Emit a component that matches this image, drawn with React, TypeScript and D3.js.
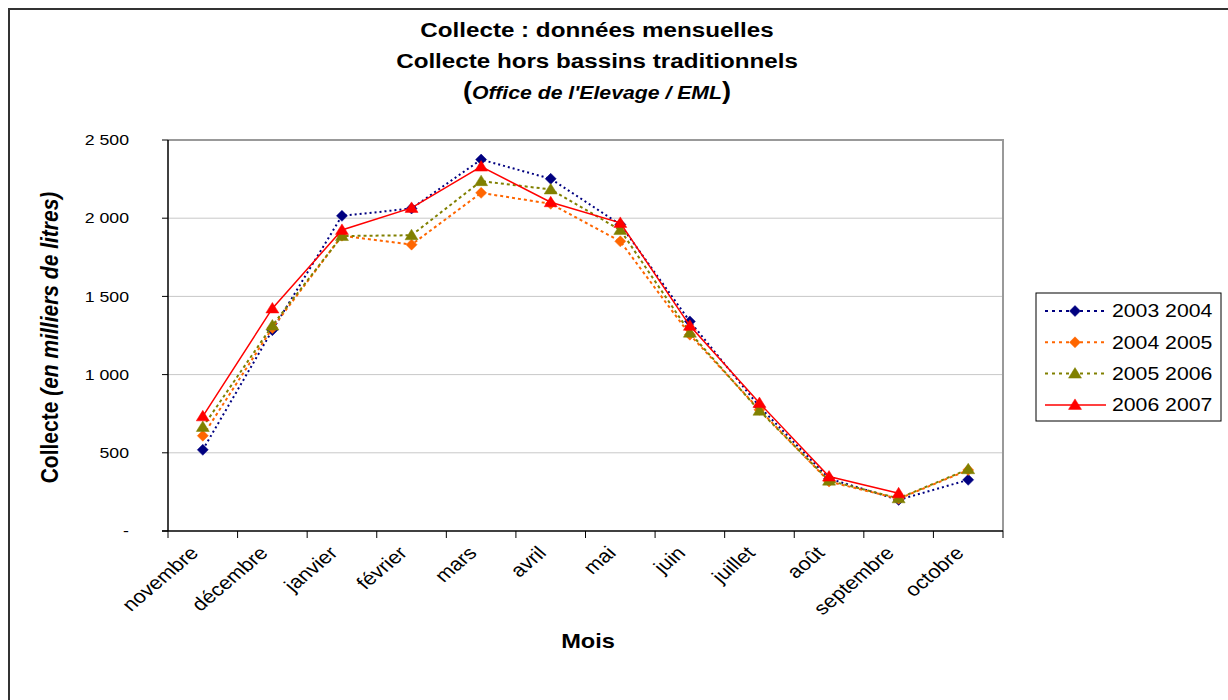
import React, { useRef, useEffect } from 'react';
import * as d3 from 'd3';

const months = ['novembre', 'décembre', 'janvier', 'février', 'mars', 'avril', 'mai', 'juin', 'juillet', 'août', 'septembre', 'octobre'];
const yTicks = [0, 500, 1000, 1500, 2000, 2500];
const yTickLabels = ['-', '500', '1 000', '1 500', '2 000', '2 500'];

const s0304 = [519, 1284, 2015, 2062, 2375, 2252, 1960, 1340, 795, 335, 199, 327];
const s0405 = [609, 1298, 1888, 1831, 2162, 2092, 1852, 1255, 775, 316, 206, 390];
const s0506 = [665, 1314, 1886, 1891, 2237, 2184, 1925, 1268, 769, 322, 209, 395];
const s0607 = [733, 1423, 1925, 2066, 2330, 2102, 1970, 1312, 818, 348, 241];

const seriesNames = ['2003 2004', '2004 2005', '2005 2006', '2006 2007'];
const seriesValues = [s0304, s0405, s0506, s0607];
const seriesColors = ['#000080', '#ff6600', '#808000', '#ff0000'];
const seriesDash = ['2,3', '3,3', '3,3', null];
const seriesMarker = ['diamond', 'diamond', 'triangle', 'triangle'];

const FONT = '"Liberation Sans", Arial, sans-serif';
// the original picture is a bit wider than tall, so text is stretched sideways
const SX = 1.18;

const App: React.FC = () => {
  const ref = useRef<SVGSVGElement | null>(null);

  useEffect(() => {
    const svg = d3.select(ref.current);
    svg.selectAll('*').remove();
    const width = 1228;
    const height = 700;
    svg.attr('width', width).attr('height', height).style('font-family', FONT);

    const left = 168, right = 1003, top = 140, bottom = 531;

    // stretched text holder
    const label = (parent: any, px: number, py: number, extra = '') =>
      parent.append('g').attr('transform', `translate(${px},${py}) scale(${SX},1) ${extra}`).append('text');

    // outer frame (extends past right/bottom edges)
    svg.append('rect')
      .attr('x', 9).attr('y', 9).attr('width', width + 20).attr('height', height + 20)
      .attr('fill', 'white').attr('stroke', '#333').attr('stroke-width', 2);

    const x = d3.scaleBand<string>().domain(months).range([left, right]).paddingInner(0).paddingOuter(0);
    const y = d3.scaleLinear().domain([0, 2500]).range([bottom, top]);

    // gridlines
    svg.append('g').selectAll('line').data(yTicks.filter((t) => t > 0)).join('line')
      .attr('x1', left).attr('x2', right)
      .attr('y1', (d) => y(d)).attr('y2', (d) => y(d))
      .attr('stroke', '#c8c8c8').attr('stroke-width', 1);

    // plot area border top/right
    svg.append('path')
      .attr('d', `M${left},${top}H${right}V${bottom}`)
      .attr('fill', 'none').attr('stroke', '#999').attr('stroke-width', 2);

    // y axis
    const yAxis = svg.append('g');
    yAxis.append('line').attr('x1', left).attr('x2', left).attr('y1', top).attr('y2', bottom)
      .attr('stroke', '#000').attr('stroke-width', 1.5);
    yAxis.selectAll('line.tick').data(yTicks).join('line').attr('class', 'tick')
      .attr('x1', left - 6).attr('x2', left)
      .attr('y1', (d) => y(d)).attr('y2', (d) => y(d))
      .attr('stroke', '#000').attr('stroke-width', 1);
    yTicks.forEach((t, i) => {
      label(yAxis, 129, y(t))
        .attr('dy', '0.35em').attr('text-anchor', 'end')
        .attr('font-size', 15).attr('fill', '#000')
        .text(yTickLabels[i]);
    });

    // x axis
    const xAxis = svg.append('g');
    xAxis.append('line').attr('x1', left - 6).attr('x2', right).attr('y1', bottom).attr('y2', bottom)
      .attr('stroke', '#000').attr('stroke-width', 1.5);
    const boundaries = months.map((m) => x(m) as number).concat([right]);
    xAxis.selectAll('line.tick').data(boundaries).join('line').attr('class', 'tick')
      .attr('x1', (d) => d).attr('x2', (d) => d)
      .attr('y1', bottom).attr('y2', bottom + 7)
      .attr('stroke', '#000').attr('stroke-width', 1);
    months.forEach((m) => {
      label(xAxis, (x(m) as number) + x.bandwidth() / 2 - 14, bottom + 14, 'rotate(-45)')
        .attr('text-anchor', 'end').attr('dy', '0.7em')
        .attr('font-size', 18.5).attr('fill', '#000')
        .text(m);
    });

    // titles
    const tt = (py: number) => label(svg, 597, py).attr('text-anchor', 'middle')
      .attr('font-weight', 'bold').attr('fill', '#000');
    tt(37).attr('font-size', 20.5).text('Collecte : données mensuelles');
    tt(68).attr('font-size', 20.5).text('Collecte hors bassins traditionnels');
    const t3 = tt(99);
    t3.append('tspan').attr('font-size', 23).text('(');
    t3.append('tspan').attr('font-style', 'italic').attr('font-size', 18).text("Office de l'Elevage / EML");
    t3.append('tspan').attr('font-size', 23).text(')');

    const yTitle = label(svg, 58, (top + bottom) / 2 + 2, 'rotate(-90)')
      .attr('text-anchor', 'middle').attr('font-size', 21).attr('font-weight', 'bold').attr('fill', '#000');
    yTitle.append('tspan').text('Collecte ');
    yTitle.append('tspan').attr('font-style', 'italic').text('(en milliers de litres)');

    label(svg, 588, 648).attr('text-anchor', 'middle')
      .attr('font-size', 20).attr('font-weight', 'bold').attr('fill', '#000').text('Mois');

    const cx = (i: number) => (x(months[i]) as number) + x.bandwidth() / 2;
    const diamondPath = 'M0,-5.5L5.5,0L0,5.5L-5.5,0Z';
    const trianglePath = 'M0,-6L6.5,4.5L-6.5,4.5Z';

    const drawMarker = (g: any, kind: string, color: string, px: number, py: number) => {
      g.append('path')
        .attr('d', kind === 'diamond' ? diamondPath : trianglePath)
        .attr('transform', `translate(${px},${py})`)
        .attr('fill', color).attr('stroke', color).attr('stroke-width', 0.5);
    };

    // series
    seriesValues.forEach((vals, si) => {
      const g = svg.append('g');
      const line = d3.line<number>().x((d, i) => cx(i)).y((d) => y(d));
      g.append('path').datum(vals)
        .attr('fill', 'none').attr('stroke', seriesColors[si])
        .attr('stroke-width', si === 3 ? 1.5 : 2)
        .attr('stroke-dasharray', seriesDash[si] ?? null)
        .attr('d', line as any);
      vals.forEach((v, i) => drawMarker(g, seriesMarker[si], seriesColors[si], cx(i), y(v)));
    });

    // legend
    const lg = svg.append('g');
    lg.append('rect').attr('x', 1036).attr('y', 293).attr('width', 185).attr('height', 128)
      .attr('fill', 'white').attr('stroke', '#000').attr('stroke-width', 1);
    seriesNames.forEach((name, si) => {
      const ly = 311 + si * 31.3;
      lg.append('line').attr('x1', 1045).attr('x2', 1106).attr('y1', ly).attr('y2', ly)
        .attr('stroke', seriesColors[si]).attr('stroke-width', si === 3 ? 1.5 : 2)
        .attr('stroke-dasharray', seriesDash[si] ? '3,4' : null);
      drawMarker(lg, seriesMarker[si], seriesColors[si], 1075, ly);
      label(lg, 1112, ly).attr('dy', '0.35em')
        .attr('font-size', 18).attr('fill', '#000').text(name);
    });
  }, []);

  return (
    <div>
      <svg ref={ref} style={{ display: 'block', position: 'absolute', left: 0, top: 0 }} />
    </div>
  );
};

export default App;
